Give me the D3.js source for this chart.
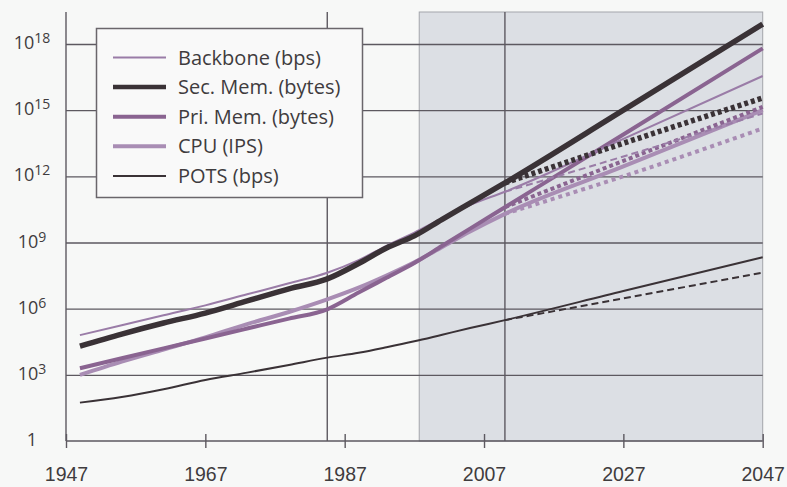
<!DOCTYPE html>
<html>
<head>
<meta charset="utf-8">
<script src="https://cdn.jsdelivr.net/npm/d3@7"></script>
<style>
  body { margin: 0; background: #f7f8f7; }
  svg { display: block; font-family: "Open Sans", sans-serif; }
  .rotulo { fill: #3f3c3e; }
</style>
</head>
<body>
<svg id="grafico"></svg>
<script>
// Dados (expoentes de base 10)
var anos = [1949, 1955, 1961, 1967, 1973, 1979, 1984.5, 1989, 1993, 1997, 2001, 2005, 2010];
var backbone = [4.8, 5.25, 5.7, 6.15, 6.65, 7.15, 7.63, 8.2, 8.85, 9.45, 10.1, 10.7, 11.3];
var secMem   = [4.3, 4.85, 5.35, 5.8, 6.35, 6.9, 7.35, 8.05, 8.75, 9.3, 10.05, 10.78, 11.7];
var priMem   = [3.3, 3.75, 4.2, 4.65, 5.1, 5.55, 5.97, 6.73, 7.4, 8.07, 8.85, 9.63, 10.6];
var cpu      = [3.0, 3.6, 4.15, 4.7, 5.3, 5.85, 6.42, 6.95, 7.5, 8.1, 8.8, 9.5, 10.3];
var pots     = [1.74, 2.0, 2.35, 2.77, 3.1, 3.45, 3.78, 4.0, 4.25, 4.52, 4.82, 5.12, 5.48];

// Projeções (alta = linha cheia, baixa = pontilhada)
var anosFuturo = [2010, 2027, 2047];
var backboneAlta = [11.3, 13.7, 16.55], backboneBaixa = [11.3, 12.9, 14.85];
var secMemAlta   = [11.7, 15.0, 18.9],  secMemBaixa   = [11.7, 13.5, 15.55];
var priMemAlta   = [10.6, 13.9, 17.8],  priMemBaixa   = [10.6, 12.7, 15.15];
var cpuAlta      = [10.3, 12.45, 15.0], cpuBaixa      = [10.3, 12.0, 14.17];
var potsAlta     = [5.48, 6.8, 8.33],   potsBaixa     = [5.48, 6.47, 7.63];

var series = ['Backbone (bps)', 'Sec. Mem. (bytes)', 'Pri. Mem. (bytes)', 'CPU (IPS)', 'POTS (bps)'];
var anosX = [1947, 1967, 1987, 2007, 2027, 2047];
var expoentesY = [0, 3, 6, 9, 12, 15, 18];
var anosGrade = [1984.5, 2010];
var inicioSombra = 1997.7;

var largura = 787, altura = 487;
var svg = d3.select('#grafico')
            .attr('width', largura)
            .attr('height', altura);

//Área de plotagem
var margem = { esquerda: 66, direita: 24.3, superior: 12, inferior: 46 };
var x = d3.scaleLinear()
          .domain([1947, 2047])
          .range([margem.esquerda, largura - margem.direita]);
var y = d3.scaleLog()
          .domain([1, 1e18])
          .range([altura - margem.inferior, 44]);
var topo = margem.superior, base = altura - margem.inferior;

//Região sombreada (projeção)
svg.append('rect')
   .attr('x', x(inicioSombra))
   .attr('y', topo)
   .attr('width', x(2047) - x(inicioSombra))
   .attr('height', base - topo)
   .attr('fill', '#dcdfe4')
   .attr('stroke', '#a3a5ab')
   .attr('stroke-width', 1);

//Linhas de grade
var grade = d3.axisRight(y)
              .tickValues(expoentesY.slice(1).map(e => Math.pow(10, e)))
              .tickSize(x(2047) - x(1947))
              .tickFormat('');
svg.append('g')
   .attr('transform', 'translate(' + x(1947) + ',0)')
   .call(grade)
   .call(g => g.select('.domain').remove())
   .selectAll('line')
   .attr('stroke', '#5d5960')
   .attr('stroke-width', 1.4);

svg.selectAll('.gradeV')
   .data(anosGrade)
   .enter()
   .append('line')
   .attr('x1', d => x(d)).attr('x2', d => x(d))
   .attr('y1', topo).attr('y2', base)
   .attr('stroke', '#5d5960')
   .attr('stroke-width', 1.4);

//Eixos
var eixoX = d3.axisBottom(x)
              .tickValues(anosX)
              .tickFormat(d3.format('d'))
              .tickSize(7)
              .tickPadding(19);
var gX = svg.append('g')
            .attr('transform', 'translate(0,' + base + ')')
            .call(eixoX);
gX.select('.domain').attr('stroke', '#5d5960').attr('stroke-width', 1.4)
  .attr('d', 'M' + x(1947) + ',0H' + x(2047));
gX.selectAll('.tick line').attr('y1', -7).attr('y2', 7)
  .attr('stroke', '#5d5960').attr('stroke-width', 1.4);
gX.selectAll('.tick text')
  .attr('class', 'rotulo')
  .style('font-size', '19.5px')
  .attr('fill', null);

svg.append('line')
   .attr('x1', x(1947)).attr('x2', x(1947))
   .attr('y1', topo).attr('y2', base)
   .attr('stroke', '#5d5960')
   .attr('stroke-width', 1.4);

//Rótulos do eixo Y (potências de 10)
var rotY = svg.selectAll('.rotY')
              .data(expoentesY)
              .enter()
              .append('text')
              .attr('class', 'rotulo rotY')
              .attr('x', 32)
              .attr('y', d => y(Math.pow(10, d)) + 5)
              .style('text-anchor', 'middle')
              .style('font-size', '18px');
rotY.each(function(d) {
    var t = d3.select(this);
    if (d === 0) { t.text('1'); return; }
    t.append('tspan').text('10');
    t.append('tspan').text(d).attr('dy', -6).style('font-size', '14px');
});

//Linhas dos dados
var linha = d3.line()
              .x(d => x(d[0]))
              .y(d => y(Math.pow(10, d[1])))
              .curve(d3.curveMonotoneX);

var estilos = [
    { nome: series[0], hist: backbone, alta: backboneAlta, baixa: backboneBaixa, cor: '#9a7ca7', esp: 2,   traco: '7 4' },
    { nome: series[1], hist: secMem,   alta: secMemAlta,   baixa: secMemBaixa,   cor: '#3a3236', esp: 5.5, traco: '4 3' },
    { nome: series[2], hist: priMem,   alta: priMemAlta,   baixa: priMemBaixa,   cor: '#8a6491', esp: 4,   traco: '4 3' },
    { nome: series[3], hist: cpu,      alta: cpuAlta,      baixa: cpuBaixa,      cor: '#a98db4', esp: 4,   traco: '4 4' },
    { nome: series[4], hist: pots,     alta: potsAlta,     baixa: potsBaixa,     cor: '#3a3236', esp: 2,   traco: '7 4' }
];

var zip = (a, b) => a.map((v, i) => [v, b[i]]);

//Desenho de trás para frente para que Sec. Mem. fique por cima
[4, 3, 2, 0, 1].forEach(function(i) {
    var s = estilos[i];
    svg.append('path')
       .datum(zip(anosFuturo, s.baixa))
       .attr('d', linha)
       .attr('fill', 'none')
       .attr('stroke', s.cor)
       .attr('stroke-width', s.esp)
       .attr('stroke-dasharray', s.traco);
    svg.append('path')
       .datum(zip(anos, s.hist).concat(zip(anosFuturo, s.alta).slice(1)))
       .attr('d', linha)
       .attr('fill', 'none')
       .attr('stroke', s.cor)
       .attr('stroke-width', s.esp)
       .attr('stroke-linejoin', 'round');
});

//Legenda
var legenda = svg.append('g');
legenda.append('rect')
       .attr('x', 96.5).attr('y', 28.5)
       .attr('width', 266).attr('height', 169)
       .attr('fill', '#f9f9f9')
       .attr('stroke', '#6a666b')
       .attr('stroke-width', 1.5);
var itens = legenda.selectAll('.item')
                   .data(estilos)
                   .enter()
                   .append('g')
                   .attr('transform', (d, i) => 'translate(0,' + (57.5 + i * 29.6) + ')');
itens.append('line')
     .attr('x1', 113).attr('x2', 166)
     .attr('stroke', d => d.cor)
     .attr('stroke-width', d => Math.min(d.esp, 4.5));
itens.append('text')
     .attr('class', 'rotulo')
     .attr('x', 178).attr('y', 7)
     .style('font-size', '20px')
     .text(d => d.nome);
</script>
</body>
</html>
